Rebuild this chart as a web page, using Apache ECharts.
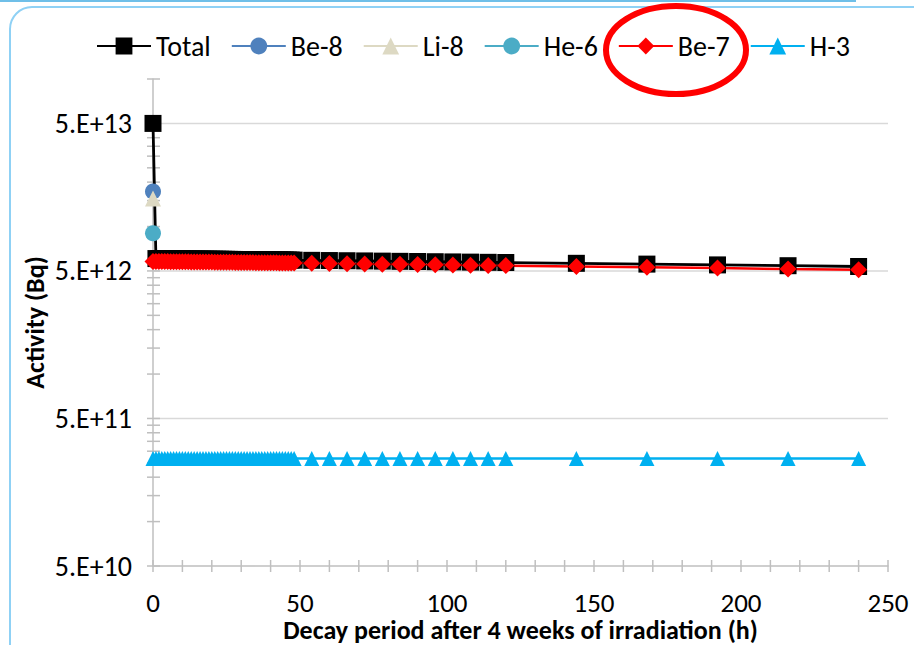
<!DOCTYPE html>
<html>
<head>
<meta charset="utf-8">
<script src="https://cdn.jsdelivr.net/npm/echarts@6/dist/echarts.min.js"></script>
<style>
html,body{margin:0;padding:0;background:#fff;}
#chart{width:914px;height:645px;}
</style>
</head>
<body>
<div id="chart"></div>
<script>
// ---- Data (activities in units of 1e12 Bq) ----
const UNIT = 1e12;
const hours = [0,1,2,3,4,5,6,7,8,9,10,11,12,13,14,15,16,17,18,19,20,21,22,23,24,25,26,27,28,29,30,31,32,33,34,35,36,37,38,39,40,41,42,43,44,45,46,47,48,
  54,60,66,72,78,84,90,96,102,108,114,120,144,168,192,216,240];
const totalVals = [50.0,6.065,6.062,6.059,6.055,6.052,6.049,6.046,6.043,6.040,6.037,6.034,6.031,6.027,6.024,6.021,6.018,6.015,6.012,6.009,6.006,6.003,6.000,5.997,5.993,5.990,5.987,5.984,5.981,5.978,5.975,5.972,5.969,5.966,5.963,5.960,5.957,5.954,5.951,5.948,5.945,5.942,5.939,5.936,5.933,5.930,5.927,5.924,5.919,
  5.900,5.882,5.864,5.846,5.828,5.809,5.792,5.774,5.756,5.738,5.720,5.702,5.632,5.563,5.494,5.426,5.360];
const be8Hours = [0];
const be8Vals = [17.3];
const li8Hours = [0];
const li8Vals = [15.5];
const he6Hours = [0];
const he6Vals = [9.0];
const be7Vals = [5.800,5.797,5.794,5.791,5.787,5.784,5.781,5.778,5.775,5.772,5.769,5.766,5.763,5.759,5.756,5.753,5.750,5.747,5.744,5.741,5.738,5.735,5.732,5.729,5.725,5.722,5.719,5.716,5.713,5.710,5.707,5.704,5.701,5.698,5.695,5.692,5.689,5.686,5.683,5.680,5.677,5.674,5.671,5.668,5.665,5.662,5.659,5.656,5.651,
  5.632,5.614,5.596,5.578,5.560,5.541,5.524,5.506,5.488,5.470,5.452,5.434,5.364,5.295,5.226,5.158,5.092];
const h3Vals = [0.268,0.268,0.268,0.268,0.268,0.268,0.268,0.268,0.268,0.268,0.268,0.268,0.268,0.268,0.268,0.268,0.268,0.268,0.268,0.268,0.268,0.268,0.268,0.268,0.268,0.268,0.268,0.268,0.268,0.268,0.268,0.268,0.268,0.268,0.268,0.268,0.268,0.268,0.268,0.268,0.268,0.268,0.268,0.268,0.268,0.268,0.268,0.268,0.268,
  0.268,0.268,0.268,0.268,0.268,0.268,0.268,0.268,0.268,0.268,0.268,0.268,0.268,0.268,0.268,0.268,0.268];

// ---- Axis ticks / labels ----
const yMajorVals = [5e10, 5e11, 5e12, 5e13];
const yMajorLabels = ['5.E+10', '5.E+11', '5.E+12', '5.E+13'];
const yMinorMult = [2,3,4,5,6,7,8,9];
const xTickVals = [0,10,20,30,40,50,60,70,80,90,100,110,120,130,140,150,160,170,180,190,200,210,220,230,240,250];
const xMin = 0, xMax = 250, xLabelInterval = 50;
const yMin = 5e10, yMax = 1e14;

const FONT = 'Carlito, Lato, sans-serif';
const LABEL_SIZE = 28;
const XLABEL_SIZE = 27;
const TITLE_SIZE = 26;
const GRID_COLOR = '#d9d9d9';
const AXIS_COLOR = '#bfbfbf';

const pairs = (xs, vs) => vs.map((v, i) => [xs[i], v * UNIT]);

// all y tick values (major + minor: major * 2..9)
const yTickAll = [];
yMajorVals.forEach(v => {
  yTickAll.push(v);
  yMinorMult.forEach(m => { const val = v * m; if (val <= yMax) yTickAll.push(val); });
});

const chart = echarts.init(document.getElementById('chart'), null, {renderer: 'svg'});

const lineSeries = (name, data, color, symbol, size, width) => ({
  name, type: 'line', data, symbol, symbolSize: size,
  lineStyle: {color, width}, itemStyle: {color, borderWidth: 0},
  showSymbol: true, animation: false, z: 3
});

const option = {
  animation: false,
  backgroundColor: '#ffffff',
  grid: {left: 153, right: 26, top: 79, bottom: 79, containLabel: false, outerBoundsMode: 'none'},
  legend: {
    data: ['Total', 'Be-8', 'Li-8', 'He-6', 'Be-7', 'H-3'],
    left: 91, top: 27, itemWidth: 54, itemHeight: 21, itemGap: 20,
    textStyle: {fontFamily: FONT, fontSize: LABEL_SIZE, color: '#000'}
  },
  xAxis: {
    type: 'value', min: xMin, max: xMax, interval: xLabelInterval,
    name: 'Decay period after 4 weeks of irradiation (h)',
    nameLocation: 'middle', nameGap: 53, nameMoveOverlap: false,
    nameTextStyle: {fontFamily: FONT, fontSize: TITLE_SIZE, fontWeight: 'bold', color: '#000', lineHeight: 22},
    axisLine: {lineStyle: {color: AXIS_COLOR, width: 1.5}},
    axisTick: {show: false},
    splitLine: {show: false},
    axisLabel: {fontFamily: FONT, fontSize: XLABEL_SIZE, color: '#000', margin: 25, lineHeight: 22}
  },
  yAxis: {
    type: 'log', logBase: 10, min: yMin, max: yMax,
    name: 'Activity (Bq)', nameLocation: 'middle', nameGap: 105, nameRotate: 90, nameMoveOverlap: false,
    nameTextStyle: {fontFamily: FONT, fontSize: TITLE_SIZE, fontWeight: 'bold', color: '#000'},
    axisLine: {show: true, lineStyle: {color: AXIS_COLOR, width: 1.5}},
    axisTick: {show: false},
    axisLabel: {show: false},
    splitLine: {show: false},
    minorTick: {show: false}, minorSplitLine: {show: false}
  },
  graphic: [
    {type: 'rect', shape: {x: 10, y: 7, width: 960, height: 700, r: 22},
     style: {fill: 'none', stroke: '#8fd1f5', lineWidth: 2}, z: 0, silent: true},
    {type: 'line', shape: {x1: 0, y1: 1, x2: 856, y2: 1},
     style: {stroke: '#6fbfe8', lineWidth: 2}, z: 0, silent: true},
    {type: 'ellipse', shape: {cx: 676, cy: 50, rx: 70, ry: 44},
     style: {fill: 'none', stroke: '#ff0000', lineWidth: 6}, z: 100, silent: true}
  ],
  series: [
    // gridlines + y labels
    {
      type: 'custom', silent: true, z: 1, clip: false, animation: false,
      data: yMajorVals.map((v, i) => [0, v, i]),
      encode: {x: 0, y: 1},
      renderItem: (params, api) => {
        const v = api.value(1);
        const p0 = api.coord([xMin, v]);
        const p1 = api.coord([xMax, v]);
        const idx = api.value(2);
        const children = [];
        if (idx > 0) {
          children.push({type: 'line', shape: {x1: p0[0], y1: p0[1], x2: p1[0], y2: p1[1]},
            style: {stroke: GRID_COLOR, lineWidth: 1.5}});
        }
        children.push({type: 'text', x: p0[0] - 21, y: p0[1],
          style: {text: yMajorLabels[idx], fill: '#000', font: LABEL_SIZE + 'px ' + FONT, align: 'right', verticalAlign: 'middle'}});
        return {type: 'group', children};
      }
    },
    // y ticks (cross)
    {
      type: 'custom', silent: true, z: 1, clip: false, animation: false,
      data: yTickAll.map(v => [xMin, v]),
      encode: {x: 0, y: 1},
      renderItem: (params, api) => {
        const p = api.coord([api.value(0), api.value(1)]);
        return {type: 'line', shape: {x1: p[0] - 6, y1: p[1], x2: p[0] + 7, y2: p[1]},
          style: {stroke: AXIS_COLOR, lineWidth: 1.5}};
      }
    },
    // x ticks (cross)
    {
      type: 'custom', silent: true, z: 1, clip: false, animation: false,
      data: xTickVals.map(v => [v, yMin]),
      encode: {x: 0, y: 1},
      renderItem: (params, api) => {
        const p = api.coord([api.value(0), api.value(1)]);
        return {type: 'line', shape: {x1: p[0], y1: p[1] - 6, x2: p[0], y2: p[1] + 6},
          style: {stroke: AXIS_COLOR, lineWidth: 1.5}};
      }
    },
    lineSeries('Total', pairs(hours, totalVals), '#000000', 'rect', 17, 2.8),
    lineSeries('Be-8', pairs(be8Hours, be8Vals), '#4f81bd', 'circle', 16, 2.8),
    lineSeries('Li-8', pairs(li8Hours, li8Vals), '#ddd9c3', 'triangle', 16, 2.8),
    lineSeries('He-6', pairs(he6Hours, he6Vals), '#4bacc6', 'circle', 16, 2.8),
    lineSeries('Be-7', pairs(hours, be7Vals), '#ff0000', 'diamond', 17, 2.5),
    lineSeries('H-3', pairs(hours, h3Vals), '#00b0f0', 'triangle', 15, 2.5)
  ]
};
chart.setOption(option);
</script>
</body>
</html>
